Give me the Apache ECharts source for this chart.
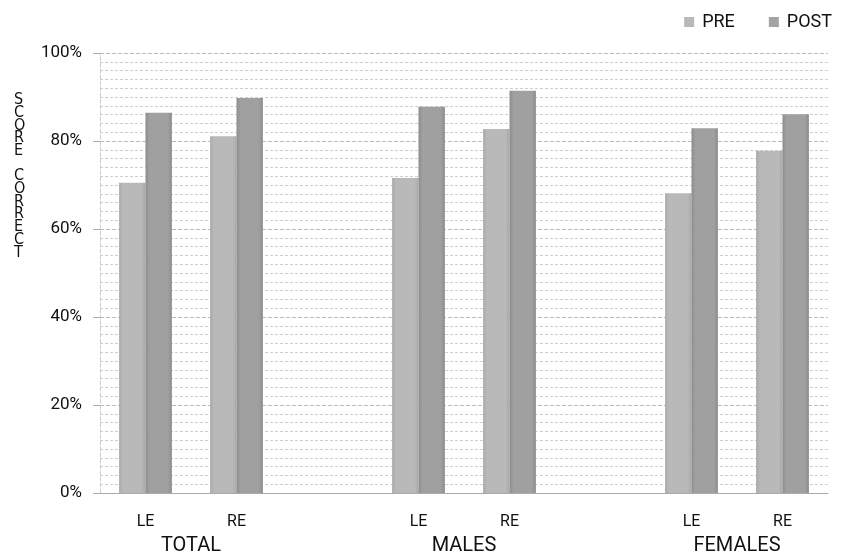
<!DOCTYPE html>
<html>
<head>
<meta charset="utf-8">
<script src="https://cdn.jsdelivr.net/npm/echarts@6/dist/echarts.min.js"></script>
<style>html,body{margin:0;padding:0;background:#fff}#c{width:841px;height:558px}</style>
</head>
<body>
<div id="c"></div>
<script>
var categories = ['LE', 'RE', '', 'LE', 'RE', '', 'LE', 'RE'];
var groupLabels = ['', 'TOTAL', '', '', 'MALES', '', '', 'FEMALES', ''];
var preValues = [70.5, 81.1, null, 71.6, 82.7, null, 68.1, 77.8];
var postValues = [86.4, 89.8, null, 87.8, 91.4, null, 82.9, 86.1];
var yTicks = [0, 20, 40, 60, 80, 100];
var yTitle = 'SCORE CORRECT';

function grad(c1, c2) {
  return new echarts.graphic.LinearGradient(0, 0, 1, 0, [
    { offset: 0, color: c2 }, { offset: 0.15, color: c1 },
    { offset: 0.85, color: c1 }, { offset: 1, color: c2 }
  ]);
}

var chart = echarts.init(document.getElementById('c'));
chart.setOption({
  animation: false,
  backgroundColor: '#fff',
  textStyle: { fontFamily: 'Roboto, Liberation Sans, sans-serif' },
  legend: {
    right: 4, top: 8,
    itemWidth: 10, itemHeight: 10, itemGap: 34,
    icon: 'rect',
    textStyle: { fontSize: 18, color: '#111', padding: [0, 0, 0, 3] },
    data: [{ name: 'PRE', itemStyle: { color: '#b8b8b8' } }, { name: 'POST', itemStyle: { color: '#a3a3a3' } }]
  },
  graphic: [{
    type: 'text',
    left: 14, top: 92,
    style: {
      text: yTitle.split('').join('\n'),
      fill: '#111',
      fontSize: 16,
      lineHeight: 12.7,
      align: 'center',
      fontFamily: 'DejaVu Sans Condensed, Liberation Sans, sans-serif'
    }
  }],
  grid: { left: 100, right: 13, top: 53, bottom: 65 },
  xAxis: [{
    type: 'category',
    data: categories,
    axisLine: { lineStyle: { color: '#aaa' } },
    axisTick: { show: false },
    axisLabel: { color: '#111', fontSize: 16, margin: 21 }
  }, {
    type: 'category',
    position: 'bottom',
    boundaryGap: false,
    data: groupLabels,
    axisLine: { show: false },
    axisTick: { show: false },
    axisLabel: { color: '#111', fontSize: 20, margin: 43, interval: 0 }
  }],
  yAxis: {
    type: 'value',
    min: 0, max: 100, interval: 20,
    axisLine: { show: true, lineStyle: { color: '#ccc', type: 'dashed' } },
    axisTick: { show: true, length: 7, lineStyle: { color: '#aaa' } },
    axisLabel: { color: '#111', fontSize: 17, margin: 18, formatter: function (v) { return yTicks.indexOf(v) >= 0 ? v + '%' : ''; } },
    splitLine: { show: true, lineStyle: { color: '#bbb', type: 'dashed' } },
    minorTick: { show: false, splitNumber: 10 },
    minorSplitLine: { show: true, lineStyle: { color: '#cdcdcd', type: [3, 2], width: 1 } }
  },
  series: [{
    name: 'PRE',
    type: 'bar',
    data: preValues,
    barGap: '0%',
    barCategoryGap: '42%',
    itemStyle: { color: grad('#b9b9b9', '#a9a9a9') }
  }, {
    name: 'POST',
    type: 'bar',
    data: postValues,
    itemStyle: { color: grad('#a0a0a0', '#8c8c8c') }
  }]
});
</script>
</body>
</html>
